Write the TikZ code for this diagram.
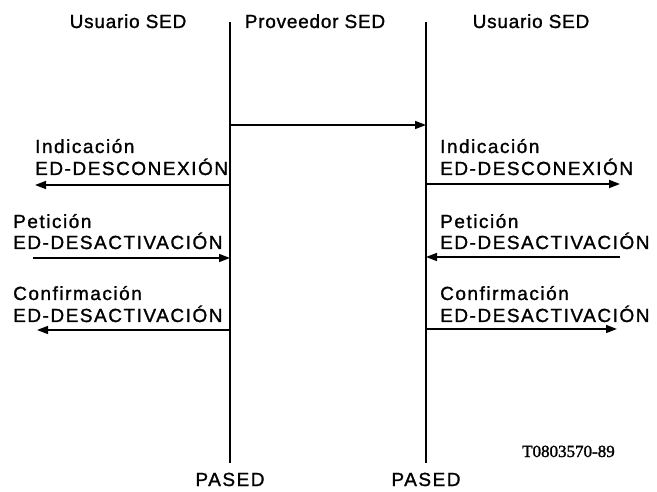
\documentclass[tikz,border=0pt]{standalone}
\usepackage{fontspec}
\setmainfont{Liberation Sans}
\newfontfamily\lblfont{Liberation Sans}[LetterSpace=8,FakeBold=1.2]
\newfontfamily\hdrfont{Liberation Sans}[LetterSpace=4,FakeBold=1.2]
\newfontfamily\reffont{Liberation Serif}[FakeBold=1.5]
\usetikzlibrary{arrows.meta}
\begin{document}
\begin{tikzpicture}[x=1pt,y=-1pt,
  lbl/.style={inner sep=0pt,font=\lblfont\fontsize{19}{22}\selectfont},
  hdr/.style={inner sep=0pt,anchor=base,font=\hdrfont\fontsize{19}{22}\selectfont},
  life/.style={line width=2pt},
  msg/.style={line width=1.6pt,-{Triangle[length=11pt,width=8pt]}}]
\useasboundingbox (0,0) rectangle (657,492);
% headers
\node[hdr] (h1) at (128,28) {Usuario SED};
\node[hdr] (h2) at (315,28) {Proveedor SED};
\node[hdr] (h3) at (531,28) {Usuario SED};
% lifelines
\coordinate (At) at (230,22);
\coordinate (Ab) at (230,463);
\coordinate (Bt) at (426,22);
\coordinate (Bb) at (426,463);
\draw[life] (At) -- (Ab);
\draw[life] (Bt) -- (Bb);
\node[lbl,anchor=base] (pa) at (230,486) {PASED};
\node[lbl,anchor=base] (pb) at (426,486) {PASED};
% provider arrow
\coordinate (P1) at (230,125);
\coordinate (P2) at (426,125);
\draw[msg] (P1) -- (P2);
% left side
\node[lbl,anchor=base west] (li1) at (35,153) {Indicación};
\node[lbl,anchor=base west] (li2) at (35,175) {ED-DESCONEXIÓN};
\coordinate (la1s) at (230,185);
\coordinate (la1e) at (35,185);
\draw[msg] (la1s) -- (la1e);
\node[lbl,anchor=base west] (lp1) at (13,228) {Petición};
\node[lbl,anchor=base west] (lp2) at (13,249) {ED-DESACTIVACIÓN};
\coordinate (la2s) at (33,258);
\coordinate (la2e) at (230,258);
\draw[msg] (la2s) -- (la2e);
\node[lbl,anchor=base west] (lc1) at (13,300) {Confirmación};
\node[lbl,anchor=base west] (lc2) at (13,322) {ED-DESACTIVACIÓN};
\coordinate (la3s) at (230,330);
\coordinate (la3e) at (37,330);
\draw[msg] (la3s) -- (la3e);
% right side
\node[lbl,anchor=base west] (ri1) at (440,153) {Indicación};
\node[lbl,anchor=base west] (ri2) at (440,175) {ED-DESCONEXIÓN};
\coordinate (ra1s) at (426,184);
\coordinate (ra1e) at (620,184);
\draw[msg] (ra1s) -- (ra1e);
\node[lbl,anchor=base west] (rp1) at (440,228) {Petición};
\node[lbl,anchor=base west] (rp2) at (440,249) {ED-DESACTIVACIÓN};
\coordinate (ra2s) at (620,257);
\coordinate (ra2e) at (426,257);
\draw[msg] (ra2s) -- (ra2e);
\node[lbl,anchor=base west] (rc1) at (440,300) {Confirmación};
\node[lbl,anchor=base west] (rc2) at (440,322) {ED-DESACTIVACIÓN};
\coordinate (ra3s) at (426,329);
\coordinate (ra3e) at (617,329);
\draw[msg] (ra3s) -- (ra3e);
% reference
\node[inner sep=0pt,anchor=base west,font=\reffont\fontsize{17}{20}\selectfont] (ref) at (522,457) {T0803570-89};
\end{tikzpicture}
\end{document}
